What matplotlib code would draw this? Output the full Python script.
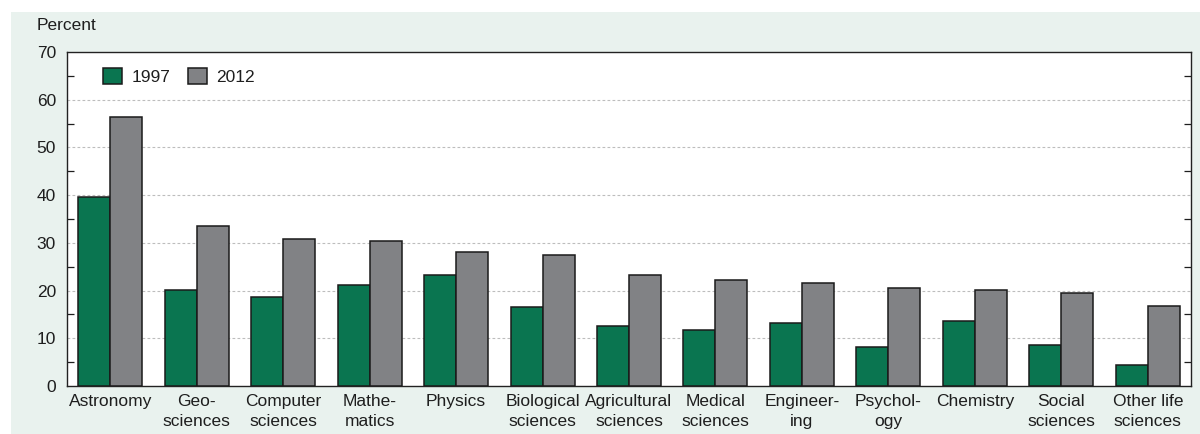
import numpy as np
import matplotlib
matplotlib.use('Agg')
import matplotlib.pyplot as plt
from matplotlib.patches import Rectangle
from matplotlib.ticker import MultipleLocator

fields = ['Astronomy', 'Geo-\nsciences', 'Computer\nsciences', 'Mathe-\nmatics', 'Physics',
          'Biological\nsciences', 'Agricultural\nsciences', 'Medical\nsciences', 'Engineer-\ning',
          'Psychol-\nogy', 'Chemistry', 'Social\nsciences', 'Other life\nsciences']
pct_1997 = [39.6, 20.1, 18.7, 21.2, 23.3, 16.6, 12.6, 11.7, 13.2, 8.2, 13.6, 8.6, 4.4]
pct_2012 = [56.4, 33.5, 30.8, 30.4, 28.1, 27.5, 23.3, 22.2, 21.6, 20.5, 20.1, 19.5, 16.8]

green = '#0a7550'
grey = '#818285'
bg = '#e9f2ee'
txt = '#1e1e1e'

plt.rcParams['font.family'] = ['Liberation Sans', 'DejaVu Sans']
plt.rcParams['text.color'] = txt
plt.rcParams['xtick.color'] = txt
plt.rcParams['ytick.color'] = txt

fig = plt.figure(figsize=(12, 4.34), dpi=100)
fig.patches.append(Rectangle((11 / 1200, 0), 1, 1 - 12 / 434, transform=fig.transFigure,
                             facecolor=bg, edgecolor='none', zorder=-10))

ax = fig.add_axes([67 / 1200, 1 - 386 / 434, (1191 - 67) / 1200, (386 - 52) / 434])
ax.set_facecolor('white')

x = np.arange(len(fields))
w = 0.37
ax.bar(x - w / 2, pct_1997, w, color=green, edgecolor='#1a1a1a', linewidth=1.1, label='1997', zorder=3)
ax.bar(x + w / 2, pct_2012, w, color=grey, edgecolor='#1a1a1a', linewidth=1.1, label='2012', zorder=3)

ax.set_xlim(-0.5, 12.5)
ax.set_ylim(0, 70)
ax.yaxis.set_major_locator(MultipleLocator(10))
ax.yaxis.set_minor_locator(MultipleLocator(5))
ax.tick_params(axis='y', which='major', length=0, labelsize=12.5, pad=8)
ax.tick_params(axis='y', which='minor', direction='in', length=5, width=0.9, right=True)
ax.set_xticks(x)
ax.set_xticklabels(fields, fontsize=12.5, linespacing=1.35)
ax.tick_params(axis='x', length=0, pad=6)

for yv in range(10, 70, 10):
    ax.axhline(yv, color='#bdbdbd', linestyle=(0, (2.5, 2)), linewidth=0.8, zorder=1)

for s in ax.spines.values():
    s.set_color('#222222')
    s.set_linewidth(1.0)

ax.legend(loc='upper left', ncol=2, frameon=False, fontsize=12.5, handlelength=1.1, handleheight=1.1,
          columnspacing=1.0, handletextpad=0.55, bbox_to_anchor=(0.018, 1.0))

fig.text(37 / 1200, 1 - 25 / 434, 'Percent', fontsize=12.5, va='center', ha='left')

fig.savefig('out.png', dpi=100)
plt.close(fig)
